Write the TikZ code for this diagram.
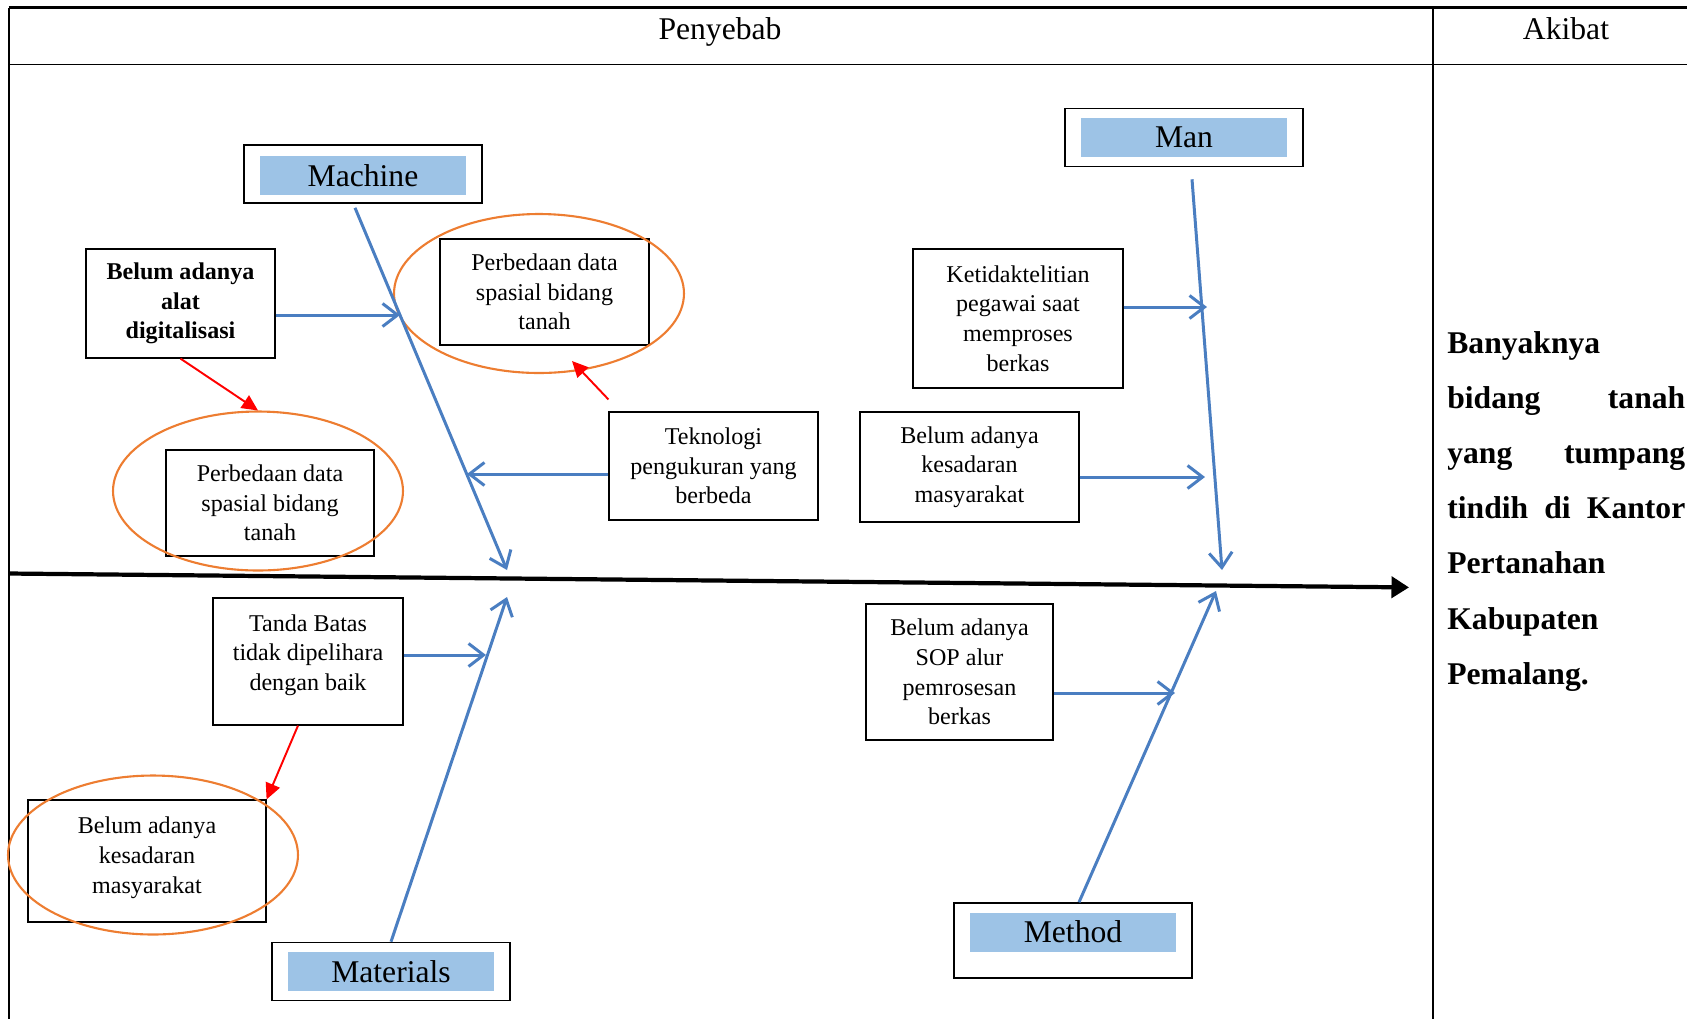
\documentclass[tikz,border=0pt]{standalone}
\usepackage{fontspec}
\setmainfont{Liberation Serif}
\usetikzlibrary{arrows.meta,shapes.geometric}
\definecolor{boneblue}{RGB}{74,126,193}
\definecolor{tagblue}{RGB}{157,195,230}
\definecolor{ringorange}{RGB}{237,125,49}
\begin{document}
\begin{tikzpicture}[x=0.02cm,y=-0.02cm,cause/.style={draw=black,line width=0.7pt,align=center,inner sep=0pt,font=\fontsize{13.7}{16.9}\selectfont},tagframe/.style={draw=black,line width=0.9pt,minimum width=4.76cm,minimum height=1.16cm},tag/.style={fill=tagblue,minimum width=4.14cm,minimum height=0.78cm,inner sep=0pt,font=\fontsize{18}{20}\selectfont},ring/.style={draw=ringorange,line width=1.2pt,shape=ellipse,minimum width=5.8cm,minimum height=3.18cm},bone/.style={draw=boneblue,line width=1.7pt,-{Straight Barb[length=0.3cm,width=0.46cm]}},hint/.style={draw=red,line width=1.1pt,-{Triangle[length=0.32cm,width=0.3cm]}},spine/.style={draw=black,line width=2.4pt,-{Triangle[length=0.35cm,width=0.42cm]}}]
\def\effw{4.76cm}
\useasboundingbox (0,0) rectangle (1687,1019);

% table
\draw[line width=1.4pt] (8.6,7.5) -- (1687,7.5);
\draw[line width=1.1pt] (8.6,64.5) -- (1687,64.5);
\draw[line width=1.1pt] (8.6,7.5) -- (8.6,1019);
\draw[line width=1.1pt] (1433,7.5) -- (1433,1019);
\node[anchor=base,font=\fontsize{18}{20}\selectfont] (penyebab) at (720,39) {Penyebab};
\node[anchor=base,font=\fontsize{18}{20}\selectfont] (akibat) at (1566,39) {Akibat};

% categories
\node[tagframe] (machine) at (363,174) {};
\node[tag] at ([yshift=-0.03cm]machine.center) {Machine};
\node[tagframe] (man) at (1184,137.5) {};
\node[tag] at (man) {Man};
\node[tagframe] (materials) at (391,971.5) {};
\node[tag] at (materials) {Materials};
\node[tagframe,minimum height=1.5cm] (method) at (1073,940.5) {};
\node[tag] at ([yshift=0.17cm]method.center) {Method};

% causes
\node[cause,font=\fontsize{13.7}{16.9}\selectfont\bfseries,minimum width=3.78cm,minimum height=2.18cm] (noTool) at (180.5,303.5) {Belum adanya\\alat\\digitalisasi};
\node[cause,minimum width=4.18cm,minimum height=2.12cm] (diffTop) at (544.5,292) {Perbedaan data\\spasial bidang\\tanah};
\node[ring] (ringTop) at (539,293.5) {};
\node[cause,minimum width=4.16cm,minimum height=2.12cm] (diffLeft) at (270,503) {Perbedaan data\\spasial bidang\\tanah};
\node[ring] (ringLeft) at (258,491) {};
\node[cause,minimum width=4.18cm,minimum height=2.16cm] (tech) at (713.5,466) {Teknologi\\pengukuran yang\\berbeda};
\node[cause,minimum width=4.2cm,minimum height=2.78cm] (careless) at (1018,318.5) {Ketidaktelitian\\pegawai saat\\memproses\\berkas};
\node[cause,minimum width=4.38cm,minimum height=2.2cm] (awareTop) at (969.5,467) {Belum adanya\\kesadaran\\masyarakat};
\node[cause,minimum width=3.8cm,minimum height=2.54cm] (marker) at (308,661.5) {Tanda Batas\\tidak dipelihara\\dengan baik\\[-6.5pt]\mbox{}};
\node[cause,minimum width=4.76cm,minimum height=2.44cm] (awareLow) at (147,861) {Belum adanya\\kesadaran\\masyarakat\\[-10pt]\mbox{}};
\node[ring] (ringLow) at (153,855) {};
\node[cause,minimum width=3.74cm,minimum height=2.72cm] (sop) at (959.5,672) {Belum adanya\\SOP alur\\pemrosesan\\berkas};

% effect
\node[anchor=north west,text width=\effw,inner sep=0pt,align=left,font=\fontsize{18}{31.4}\selectfont\bfseries] (effect) at (1447,331) {Banyaknya\\
\leavevmode\hbox to\effw{bidang\hfill tanah}\\
\leavevmode\hbox to\effw{yang\hfill tumpang}\\
\leavevmode\hbox to\effw{tindih\hfill di\hfill Kantor}\\
Pertanahan\\
Kabupaten\\
Pemalang.};

% heads and tips
\coordinate (spineStart) at (8.6,573.5);
\coordinate (spineEnd) at (1409,587.4);
\coordinate (machineHead) at (507,570);
\coordinate (manHead) at (1222,570);
\coordinate (materialsHead) at (507,597);
\coordinate (methodHead) at (1216,591);
\coordinate (toolTip) at (400,315);
\coordinate (techTip) at (467,474);
\coordinate (carelessTip) at (1207,307);
\coordinate (awareTip) at (1205,477);
\coordinate (markerTip) at (486,655);
\coordinate (sopTip) at (1175,693);
\coordinate (ringTopTip) at (572,361);

\draw[spine] (spineStart) -- (spineEnd);
\draw[bone] ([shift={(-8,4)}]machine.south) -- (machineHead);
\draw[bone] ([shift={(8,12)}]man.south) -- (manHead);
\draw[bone] (materials.north) -- (materialsHead);
\draw[bone] ([shift={(6,0)}]method.north) -- (methodHead);

\draw[bone] (noTool.east |- toolTip) -- (toolTip);
\draw[bone] (tech.west |- techTip) -- (techTip);
\draw[bone] (careless.east |- carelessTip) -- (carelessTip);
\draw[bone] (awareTop.east |- awareTip) -- (awareTip);
\draw[bone] (marker.east |- markerTip) -- (markerTip);
\draw[bone] (sop.east |- sopTip) -- (sopTip);

\draw[hint] (noTool.south) -- (ringLeft.north);
\draw[hint] ([yshift=0.24cm]tech.north west) -- (ringTopTip);
\draw[hint] ([xshift=-0.2cm]marker.south) -- (awareLow.north east);
\end{tikzpicture}
\end{document}
